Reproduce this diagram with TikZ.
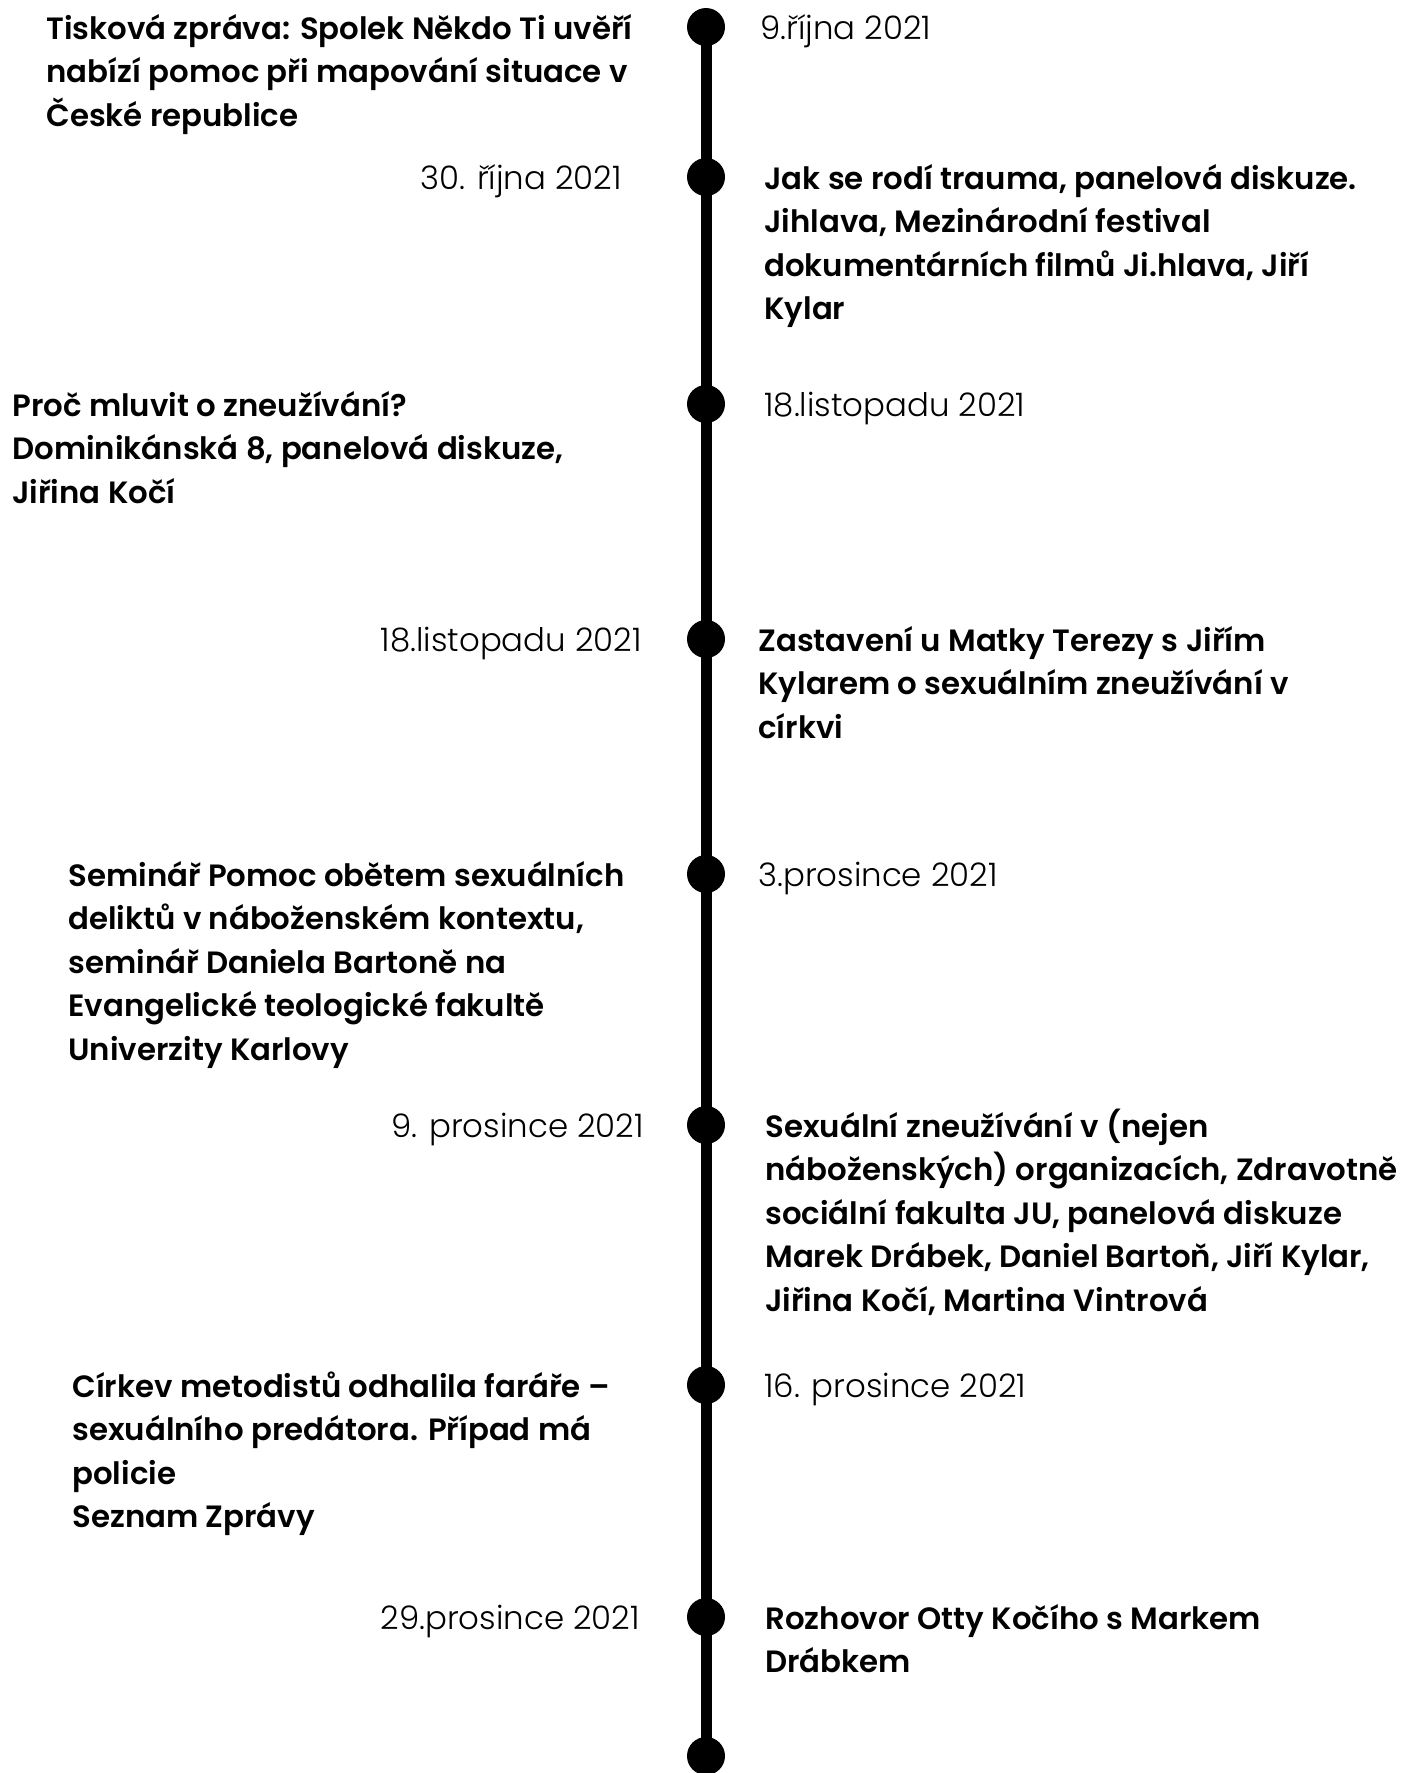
\documentclass[tikz,border=0pt]{standalone}
\usepackage{fontspec}
\setmainfont{Poppins}[BoldFont={Poppins SemiBold}]
\newfontfamily\datefont{Poppins Light}
\tikzset{
  dot/.style = {circle, fill=black, inner sep=0pt, minimum size=19pt},
  event/.style = {align=left, inner sep=0pt, anchor=base west,
    font=\fontsize{15.4}{21.8}\selectfont\bfseries},
  nlines/.style = {yshift=-(#1-1)*21.8pt},
  dateR/.style = {inner sep=0pt, anchor=base west,
    font=\fontsize{16.2}{21.8}\selectfont\datefont},
  dateL/.style = {dateR, anchor=base east}
}

\begin{document}
\begin{tikzpicture}[x=0.5pt,y=-0.5pt]
  \useasboundingbox (0,0) rectangle (1404,1773);
  \node[dot] (d1) at (706,27) {};
  \node[dot] (d2) at (706,177) {};
  \node[dot] (d3) at (706,404) {};
  \node[dot] (d4) at (706,639) {};
  \node[dot] (d5) at (706,874) {};
  \node[dot] (d6) at (706,1125) {};
  \node[dot] (d7) at (706,1385) {};
  \node[dot] (d8) at (706,1617) {};
  \node[dot] (d9) at (706,1756) {};
  \draw[line width=5.5pt] (d1.center) -- (d9.center);
  % 1
  \node[event,nlines=3] (e1) at (46,39) {Tisková zpráva: Spolek Někdo Ti uvěří\\nabízí pomoc při mapování situace v\\České republice};
  \node[dateR] (t1) at (760,39) {9.října 2021};
  % 2
  \node[dateL] (t2) at (622,189) {30. října 2021};
  \node[event,nlines=4] (e2) at (764,189) {Jak se rodí trauma, panelová diskuze.\\Jihlava, Mezinárodní festival\\dokumentárních filmů Ji.hlava, Jiří\\Kylar};
  % 3
  \node[event,nlines=3] (e3) at (12,416) {Proč mluvit o zneužívání?\\Dominikánská 8, panelová diskuze,\\Jiřina Kočí};
  \node[dateR] (t3) at (764,416) {18.listopadu 2021};
  % 4
  \node[dateL] (t4) at (642,651) {18.listopadu 2021};
  \node[event,nlines=3] (e4) at (758,651) {Zastavení u Matky Terezy s Jiřím\\Kylarem o sexuálním zneužívání v\\církvi};
  % 5
  \node[event,nlines=5] (e5) at (68,886) {Seminář Pomoc obětem sexuálních\\deliktů v náboženském kontextu,\\seminář Daniela Bartoně na\\Evangelické teologické fakultě\\Univerzity Karlovy};
  \node[dateR] (t5) at (758,886) {3.prosince 2021};
  % 6
  \node[dateL] (t6) at (644,1137) {9. prosince 2021};
  \node[event,nlines=5] (e6) at (765,1137) {Sexuální zneužívání v (nejen\\náboženských) organizacích, Zdravotně\\sociální fakulta JU, panelová diskuze\\Marek Drábek, Daniel Bartoň, Jiří Kylar,\\Jiřina Kočí, Martina Vintrová};
  % 7
  \node[event,nlines=4] (e7) at (72,1397) {Církev metodistů odhalila faráře --\\sexuálního predátora. Případ má\\policie\\Seznam Zprávy};
  \node[dateR] (t7) at (764,1397) {16. prosince 2021};
  % 8
  \node[dateL] (t8) at (640,1629) {29.prosince 2021};
  \node[event,nlines=2] (e8) at (765,1629) {Rozhovor Otty Kočího s Markem\\Drábkem};
\end{tikzpicture}
\end{document}
